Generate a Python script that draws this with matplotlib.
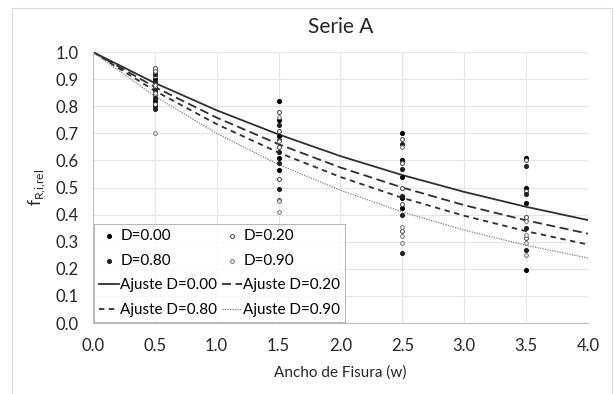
import numpy as np
import matplotlib.pyplot as plt
from matplotlib.patches import Rectangle

plt.rcParams['font.family'] = ['Lato', 'DejaVu Sans']

# measured points (crack width w, relative residual strength)
w_d000 = [0.5] * 6 + [1.5] * 5 + [2.5] * 5 + [3.5] * 4
f_d000 = [0.93, 0.90, 0.88, 0.85, 0.82, 0.80,
          0.82, 0.75, 0.69, 0.61, 0.565,
          0.70, 0.60, 0.54, 0.46, 0.425,
          0.61, 0.50, 0.443, 0.195]
w_d020 = [0.5] * 5 + [1.5] * 5 + [2.5] * 5 + [3.5] * 4
f_d020 = [0.94, 0.91, 0.87, 0.84, 0.81,
          0.78, 0.71, 0.65, 0.53, 0.455,
          0.68, 0.59, 0.50, 0.44, 0.34,
          0.60, 0.487, 0.39, 0.313]
w_d080 = [0.5] * 5 + [1.5] * 5 + [2.5] * 5 + [3.5] * 4
f_d080 = [0.92, 0.89, 0.86, 0.83, 0.79,
          0.73, 0.675, 0.63, 0.59, 0.495,
          0.66, 0.57, 0.47, 0.40, 0.26,
          0.58, 0.476, 0.35, 0.27]
w_d090 = [0.5] * 4 + [1.5] * 4 + [2.5] * 4 + [3.5] * 4
f_d090 = [0.93, 0.88, 0.85, 0.70,
          0.76, 0.67, 0.45, 0.41,
          0.65, 0.355, 0.32, 0.295,
          0.377, 0.325, 0.296, 0.25]

# fitted curves
w_fit = [0.0, 0.5, 1.0, 1.5, 2.0, 2.5, 3.0, 3.5, 4.0]
fit_d000 = [1.0, 0.886, 0.785, 0.696, 0.616, 0.546, 0.484, 0.429, 0.380]
fit_d020 = [1.0, 0.871, 0.758, 0.660, 0.574, 0.500, 0.435, 0.379, 0.330]
fit_d080 = [1.0, 0.857, 0.734, 0.629, 0.539, 0.462, 0.396, 0.339, 0.290]
fit_d090 = [1.0, 0.837, 0.700, 0.585, 0.490, 0.410, 0.343, 0.287, 0.240]

fig = plt.figure(figsize=(6.15, 3.94), dpi=100)
ax = fig.add_axes([0.151, 0.180, 0.805, 0.688])

fig.patches.append(Rectangle((0.02, -0.01), 0.975, 0.99, transform=fig.transFigure,
                             fill=False, edgecolor='#d9d9d9', linewidth=0.8))

h_d000 = ax.scatter(w_d000, f_d000, s=7, color='black', zorder=3, label='D=0.00')
h_d020 = ax.scatter(w_d020, f_d020, s=8, facecolor='white', edgecolor='#404040',
                    linewidth=0.7, zorder=3, label='D=0.20')
h_d080 = ax.scatter(w_d080, f_d080, s=7, color='#202020', zorder=3, label='D=0.80')
h_d090 = ax.scatter(w_d090, f_d090, s=7, facecolor='white', edgecolor='#707070',
                    linewidth=0.7, zorder=3, label='D=0.90')

l_d000, = ax.plot(w_fit, fit_d000, color='#303030', lw=1.3, ls='-', label='Ajuste D=0.00')
l_d020, = ax.plot(w_fit, fit_d020, color='#303030', lw=1.3, ls=(0, (5, 2.5)), label='Ajuste D=0.20')
l_d080, = ax.plot(w_fit, fit_d080, color='#303030', lw=1.3, ls=(0, (3, 2.5)), label='Ajuste D=0.80')
l_d090, = ax.plot(w_fit, fit_d090, color='#808080', lw=0.9, ls=(0, (1, 1)), label='Ajuste D=0.90')

ax.set_xlim(0, 4)
ax.set_ylim(0, 1)
ax.set_xticks(np.arange(0, 4.01, 0.5))
ax.set_yticks(np.arange(0, 1.01, 0.1))
ax.set_xticklabels([f'{v:.1f}' for v in np.arange(0, 4.01, 0.5)])
ax.set_yticklabels([f'{v:.1f}' for v in np.arange(0, 1.01, 0.1)])
ax.tick_params(length=0, labelsize=12, colors='#262626')
ax.tick_params(axis='x', pad=11)
ax.tick_params(axis='y', pad=10)
ax.grid(True, color='#e6e6e6', lw=0.8)
ax.set_axisbelow(True)
for s in ['top', 'right']:
    ax.spines[s].set_visible(False)
for s in ['left', 'bottom']:
    ax.spines[s].set_color('#bfbfbf')

ax.set_title('Serie A', fontsize=15, color='#262626', pad=14)
ax.set_xlabel('Ancho de Fisura (w)', fontsize=11, color='#262626', labelpad=8)
ax.set_ylabel(r'f$_{\mathregular{R{,}i{,}rel}}$', fontsize=12.5, color='#262626', labelpad=6)

# row-wise order like the original legend
handles = [h_d000, h_d080, l_d000, l_d080, h_d020, h_d090, l_d020, l_d090]
labels = [h.get_label() for h in handles]
leg = ax.legend(handles, labels, loc='lower left', ncol=2, fontsize=11, frameon=True,
                fancybox=False, edgecolor='#a6a6a6', borderpad=0.3, labelspacing=0.7,
                handlelength=1.3, handletextpad=0.1, columnspacing=0.3,
                borderaxespad=0.1)
leg.get_frame().set_linewidth(0.8)

plt.savefig('out.png', dpi=100)
